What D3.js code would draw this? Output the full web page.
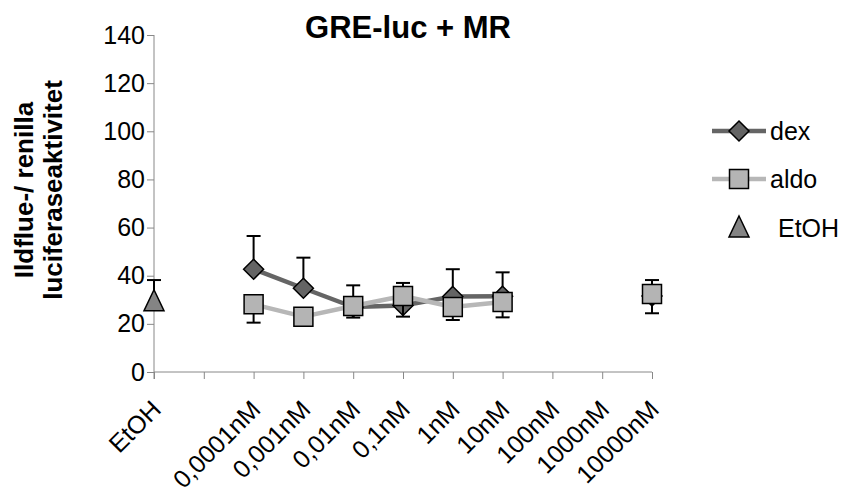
<!DOCTYPE html>
<html><head><meta charset="utf-8">
<script src="https://cdn.jsdelivr.net/npm/d3@7"></script>
<style>body{margin:0;background:#fff}svg{display:block}text{font-family:Arial,"Liberation Sans",sans-serif}</style>
</head><body><svg id="c" width="843" height="492"></svg>
<script>
const categories = ["EtOH","","0,0001nM","0,001nM","0,01nM","0,1nM","1nM","10nM","100nM","1000nM","10000nM"];
const dexValues  = [null,null,42.7,34.8,27,27.6,31.4,31.5,null,null,31.6];
const dexErrPlus = [null,null,13.8,12.7,9,9.4,11.3,9.9,null,null,6.6];
const aldoValues = [null,null,28.1,23,27.4,31.6,27,29.1,null,null,32.4];
const aldoErrMinus = [null,null,7.6,2.5,4.8,8.6,5.4,6.4,null,null,8];
const etohValues = [29.2];
const etohErrPlus = [9];
const yTicks = [0,20,40,60,80,100,120,140];
const title = "GRE-luc + MR";
const yTitle = ["Ildflue-/ renilla","luciferaseaktivitet"];
const legendNames = ["dex","aldo","EtOH"];

const svg = d3.select("#c");
const x = d3.scalePoint().domain(d3.range(categories.length)).range([154,652]);
const y = d3.scaleLinear().domain([0,140]).range([372,35]);
const axisColor = "#888";

// y axis
const ya = svg.append("g").attr("transform","translate(154,0)")
  .call(d3.axisLeft(y).tickValues(yTicks).tickSize(7).tickPadding(2));
ya.select(".domain").attr("stroke",axisColor).attr("d","M0,35V379");
ya.selectAll(".tick line").attr("stroke",axisColor);
ya.selectAll(".tick text").attr("font-size",25).attr("fill","#000").attr("font-family","Arial, Liberation Sans");

// x axis
const xa = svg.append("g").attr("transform","translate(0,372)")
  .call(d3.axisBottom(x).tickSize(7).tickFormat(i=>categories[i]));
xa.select(".domain").attr("stroke",axisColor).attr("d","M154,0H652");
xa.selectAll(".tick line").attr("stroke",axisColor);
xa.selectAll(".tick text").attr("font-size",25).attr("fill","#000").attr("font-family","Arial, Liberation Sans")
  .attr("text-anchor","end").attr("y",0).attr("dy",0)
  .attr("transform","translate(8,39) rotate(-45)");

// series drawing
function drawSeries(vals, errs, dir, lineColor, fill, shape){
  const pts = vals.map((v,i)=>({i,v,e:errs[i]})).filter(d=>d.v!==null);
  const line = d3.line().defined(d=>d.v!==null).x(d=>x(d.i)).y(d=>y(d.v));
  const full = vals.map((v,i)=>({i,v}));
  if(lineColor){
    svg.append("path").datum(full).attr("d",line).attr("fill","none")
      .attr("stroke",lineColor).attr("stroke-width",4.5).attr("stroke-linejoin","round");
  }
  const g = svg.append("g");
  pts.forEach(d=>{
    if(d.e==null) return;
    const y2 = y(d.v + dir*d.e);
    g.append("line").attr("x1",x(d.i)).attr("x2",x(d.i)).attr("y1",y(d.v)).attr("y2",y2).attr("stroke","#000").attr("stroke-width",2);
    g.append("line").attr("x1",x(d.i)-7).attr("x2",x(d.i)+7).attr("y1",y2).attr("y2",y2).attr("stroke","#000").attr("stroke-width",2);
  });
  g.selectAll(".m").data(pts).join("path")
    .attr("transform",d=>`translate(${x(d.i)},${y(d.v)})`)
    .attr("d",shape).attr("fill",fill).attr("stroke","#000").attr("stroke-width",1.5);
}
const diamond = "M0,-10L10,0L0,10L-10,0Z";
const square = "M-9.5,-9.5H9.5V9.5H-9.5Z";
const triangle = "M0,-12L10,9H-10Z";
drawSeries(dexValues, dexErrPlus, 1, "#656565", "#646464", diamond);
drawSeries(aldoValues, aldoErrMinus, -1, "#b7b7b7", "#b4b4b4", square);
drawSeries(etohValues, etohErrPlus, 1, null, "#848484", triangle);

// title
svg.append("text").attr("x",408).attr("y",38).attr("text-anchor","middle")
  .attr("font-size",31).attr("font-weight","bold").text(title);

// y title
svg.append("text").attr("transform","translate(33,190) rotate(-90)").attr("text-anchor","middle")
  .attr("font-size",26).attr("font-weight","bold").text(yTitle[0]);
svg.append("text").attr("transform","translate(62,190) rotate(-90)").attr("text-anchor","middle")
  .attr("font-size",26).attr("font-weight","bold").text(yTitle[1]);

// legend
const lg = svg.append("g");
const ly = [131,179,228];
lg.append("line").attr("x1",712).attr("x2",766).attr("y1",ly[0]).attr("y2",ly[0]).attr("stroke","#656565").attr("stroke-width",4.5);
lg.append("path").attr("transform",`translate(739,${ly[0]})`).attr("d",diamond).attr("fill","#646464").attr("stroke","#000").attr("stroke-width",1.5);
lg.append("line").attr("x1",712).attr("x2",766).attr("y1",ly[1]).attr("y2",ly[1]).attr("stroke","#b7b7b7").attr("stroke-width",4.5);
lg.append("path").attr("transform",`translate(739,${ly[1]})`).attr("d",square).attr("fill","#b4b4b4").attr("stroke","#000").attr("stroke-width",1.5);
lg.append("path").attr("transform",`translate(739,${ly[2]})`).attr("d",triangle).attr("fill","#848484").attr("stroke","#000").attr("stroke-width",1.5);
[770,770,778].forEach((lx,k)=>{
  lg.append("text").attr("x",lx).attr("y",ly[k]).attr("dy","0.35em").attr("font-size",25).text(legendNames[k]);
});
</script></body></html>
